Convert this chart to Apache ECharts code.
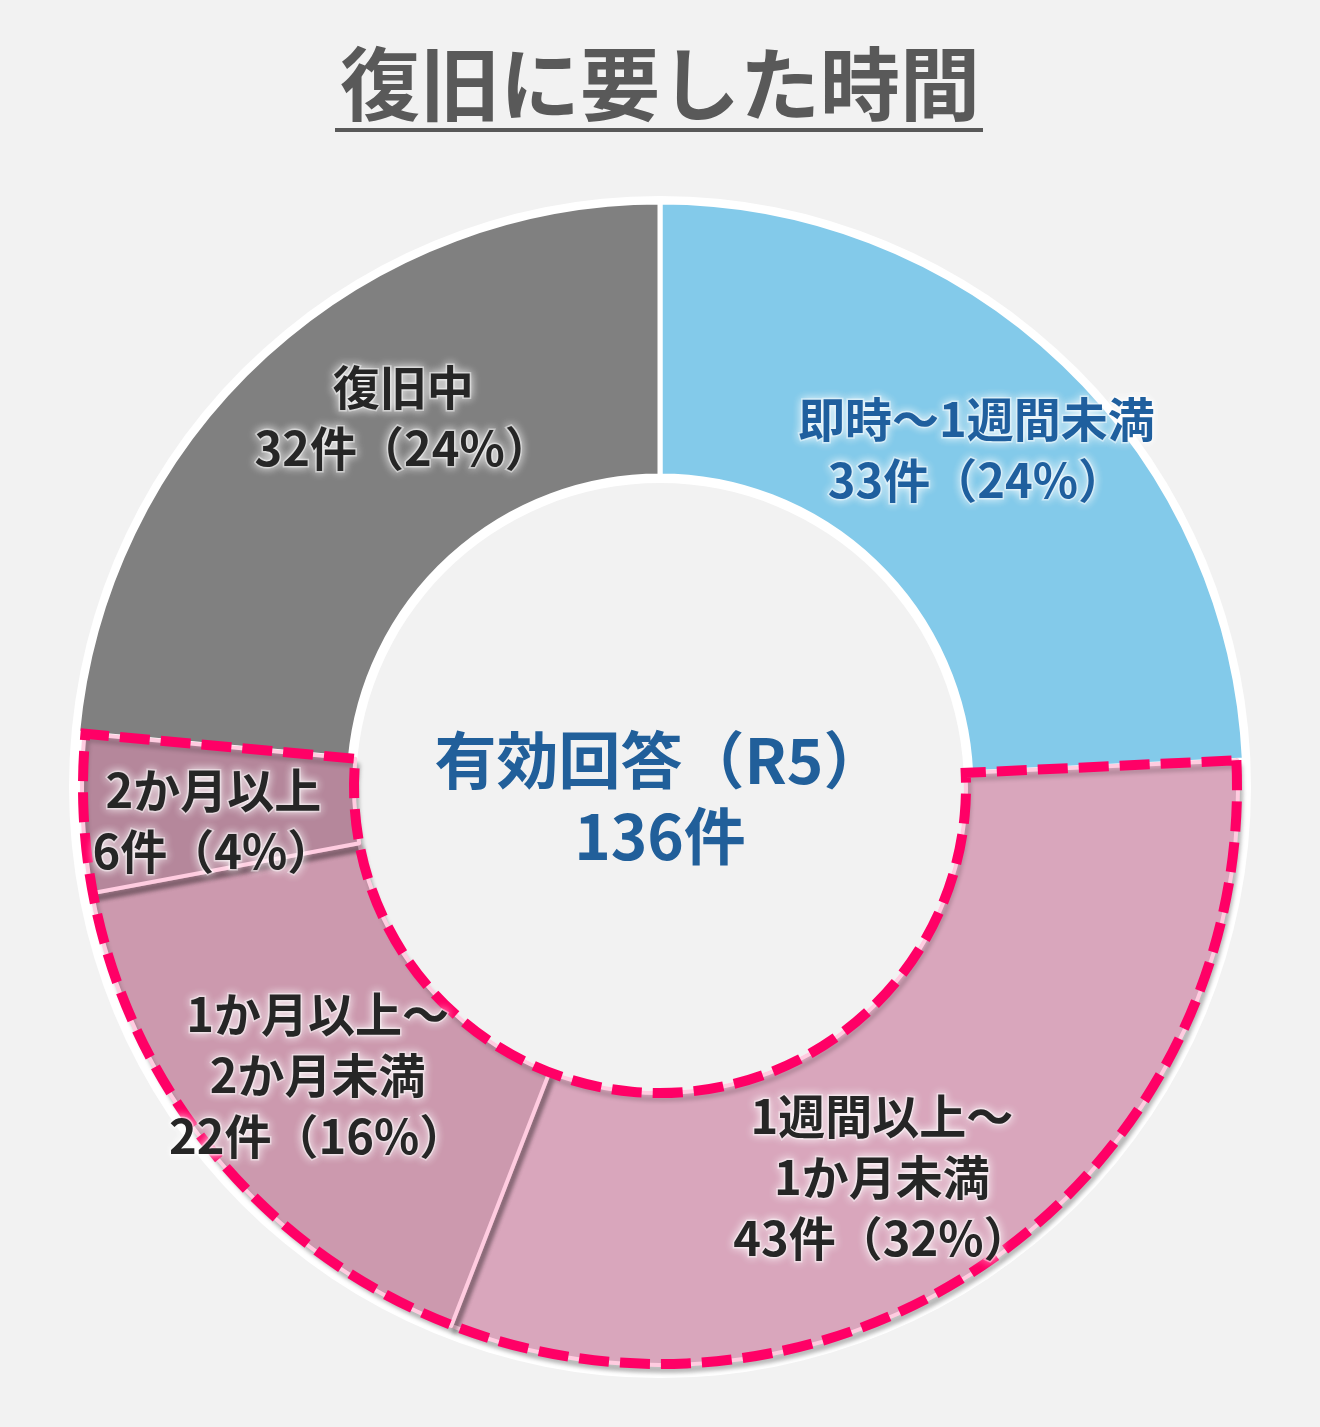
<!DOCTYPE html>
<html><head><meta charset="utf-8">
<script src="https://cdn.jsdelivr.net/npm/echarts@6/dist/echarts.min.js"></script>
<style>html,body{margin:0;padding:0;background:#f2f2f2;} #c{width:1320px;height:1427px;}</style>
</head><body><div id="c"></div>
<script>
// ---- data ----
const categories = ['即時～1週間未満', '1週間以上～\n1か月未満', '1か月以上～\n2か月未満', '2か月以上', '復旧中'];
const counts = [33, 43, 22, 6, 32];
const titleText = '復旧に要した時間';
const centerLines = ['有効回答（R5）', '136件'];

// ---- styles ----
const fills = ['#83CAEA', '#D9A6BC', '#CC99AE', '#B5879B', '#808080'];
const isPink = [false, true, true, true, false];
const labelColors = ['#1F5F9E', '#262626', '#262626', '#262626', '#262626'];
const labelShift = [[5, -11], [-38, 29], [0, 4], [-2, 13], [47, -36]];

const total = counts.reduce((a, b) => a + b, 0);
const pct = counts.map(v => Math.round(v / total * 100));
const FONT = '"Noto Sans CJK JP", "Noto Sans", sans-serif';
const CENTER = [660, 787];

function labelFmt(p) {
  return p.name + '\n' + counts[p.dataIndex] + '件（' + pct[p.dataIndex] + '%）';
}
const baseLabel = {
  show: true, position: 'inside', formatter: labelFmt,
  fontFamily: FONT, fontSize: 47, fontWeight: 'bold', lineHeight: 61,
  textBorderColor: 'rgba(255,255,255,0.45)', textBorderWidth: 3,
  textShadowColor: 'rgba(255,255,255,0.95)', textShadowBlur: 10
};
function makeData(showPink) {
  return counts.map((v, i) => {
    const visible = isPink[i] === showPink;
    if (!visible) return { value: v, name: categories[i], itemStyle: { color: 'transparent', borderWidth: 0, shadowBlur: 0, shadowColor: 'transparent' }, label: { show: false } };
    return {
      value: v, name: categories[i],
      itemStyle: showPink
        ? { color: fills[i], borderColor: '#FFCCE0', borderWidth: 4 }
        : { color: fills[i], borderColor: '#FFFFFF', borderWidth: 5 },
      label: Object.assign({}, baseLabel, { color: labelColors[i] })
    };
  });
}
// group outline: before pink / pink sum / after pink
const firstPink = isPink.indexOf(true), lastPink = isPink.lastIndexOf(true);
const outlineVals = [
  counts.slice(0, firstPink).reduce((a, b) => a + b, 0),
  counts.slice(firstPink, lastPink + 1).reduce((a, b) => a + b, 0),
  counts.slice(lastPink + 1).reduce((a, b) => a + b, 0)
];
const shiftLayout = p => ({ dx: labelShift[p.dataIndex][0], dy: labelShift[p.dataIndex][1] });

const chart = echarts.init(document.getElementById('c'), null, { renderer: 'canvas' });
chart.setOption({
  backgroundColor: '#F2F2F2',
  animation: false,
  title: [
    { text: titleText, left: 'center', top: 42, padding: 0,
      textStyle: { fontFamily: FONT, fontSize: 80, fontWeight: 'bold', color: '#595959', lineHeight: 84 } }
  ],
  graphic: [
    { type: 'rect', shape: { x: 335, y: 128, width: 648, height: 4 }, style: { fill: '#595959' }, silent: true },
    { type: 'text', silent: true, z: 100,
      style: { text: centerLines.join('\n'), x: 660, y: 722, textAlign: 'center', textVerticalAlign: 'top',
        fill: '#215F9A', fontFamily: FONT, fontSize: 62, fontWeight: 'bold', lineHeight: 76 } }
  ],
  series: [
    { type: 'pie', silent: true, center: CENTER, radius: [304, 591], startAngle: 90,
      data: [{ value: 1, itemStyle: { color: '#FFFFFF' } }], label: { show: false }, labelLine: { show: false } },
    { type: 'pie', silent: true, center: CENTER, radius: [311, 585], startAngle: 90, clockwise: true,
      avoidLabelOverlap: false, data: makeData(false), labelLine: { show: false }, labelLayout: shiftLayout },
    { type: 'pie', silent: true, center: CENTER, radius: [306, 578], startAngle: 90, clockwise: true,
      avoidLabelOverlap: false, data: makeData(true), labelLine: { show: false }, labelLayout: shiftLayout,
      itemStyle: { shadowColor: 'rgba(0,0,0,0.22)', shadowBlur: 4, shadowOffsetX: 3, shadowOffsetY: 6 } },
    { type: 'pie', silent: true, center: CENTER, radius: [306, 577], startAngle: 90, clockwise: true,
      label: { show: false }, labelLine: { show: false },
      data: outlineVals.map((v, i) => ({
        value: v,
        itemStyle: i === 1
          ? { color: 'transparent', borderColor: '#FF0066', borderWidth: 10, borderType: [30, 11], borderJoin: 'miter' }
          : { color: 'transparent', borderWidth: 0 }
      })) }
  ]
});
</script>
</body></html>
